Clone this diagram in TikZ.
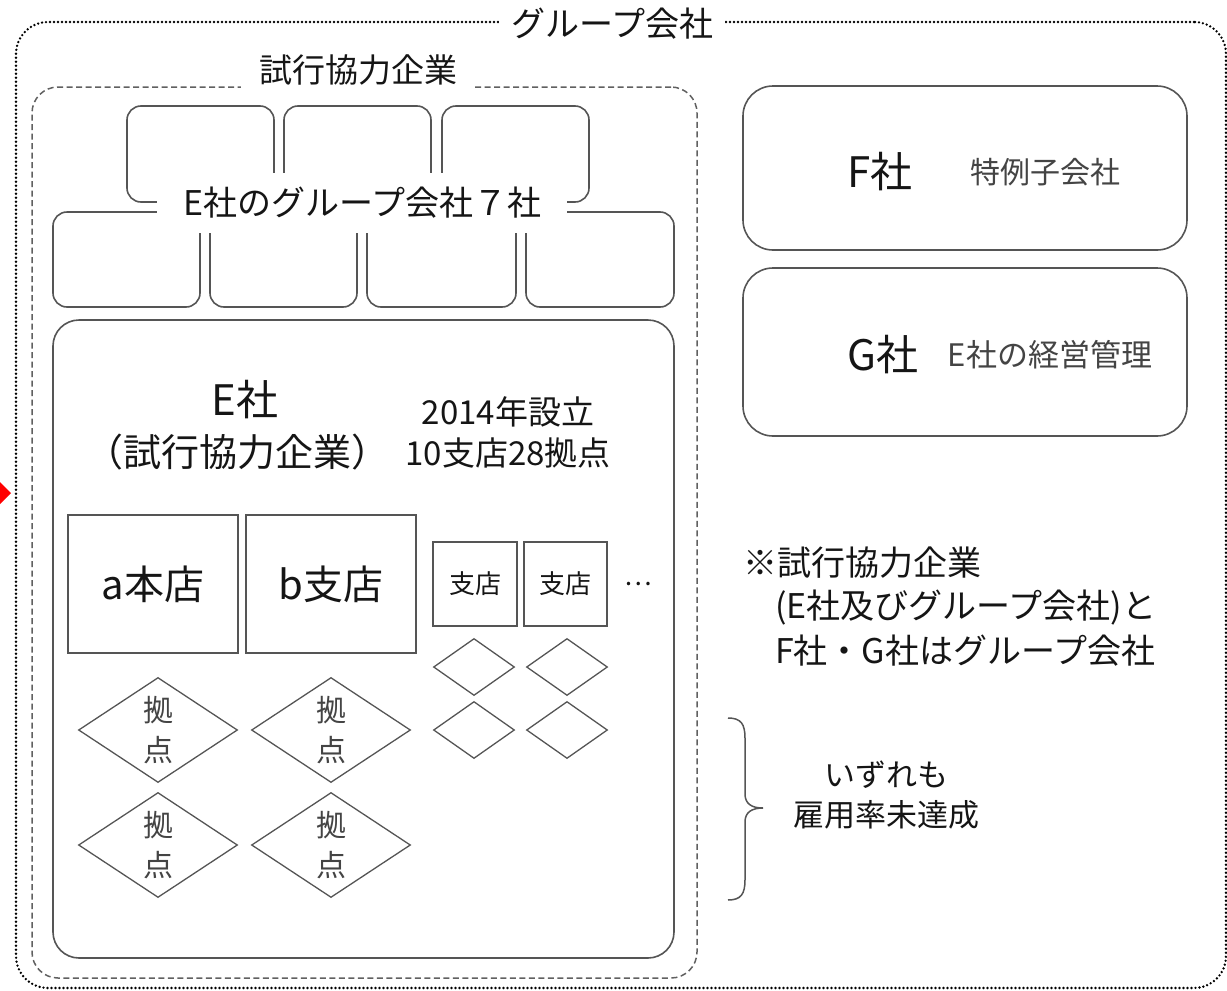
\documentclass[tikz,border=0pt]{standalone}
\usepackage{fontspec}
\setmainfont{Noto Sans CJK JP}
\usetikzlibrary{shapes.geometric}
\definecolor{ln}{HTML}{555555}
\definecolor{dl}{HTML}{606060}
\definecolor{tx}{HTML}{151515}
\definecolor{tg}{HTML}{444444}
\newcommand{\jfs}[1]{\fontsize{#1}{#1}\selectfont}
\begin{document}
\begin{tikzpicture}[x=1pt,y=-1pt,
  box/.style={draw=ln, line width=1.6pt, rounded corners=#1, inner sep=0pt},
  sqbox/.style={draw=ln, line width=1.6pt, inner sep=0pt},
  dia/.style={draw=ln, line width=1.3pt, diamond, inner sep=0pt},
  lbl/.style={text=tx, inner sep=0pt, font=\jfs{#1}},
  lblg/.style={text=tg, inner sep=0pt, font=\jfs{#1}}]
\useasboundingbox (0,0) rectangle (1227,991);
% red mark at left edge
\fill[red] (0,482) -- (11,493) -- (0,504) -- cycle;
% outer group box
\node[draw=black, line width=2.6pt, line cap=round, dash pattern=on 0pt off 4pt,
      rounded corners=32pt, minimum width=1210pt, minimum height=966pt] (group) at (621,505) {};
\node[lbl=34, fill=white, inner xsep=12pt, inner ysep=4pt] (grouptitle) at (612,24) {グループ会社};
% trial companies box
\node[draw=dl, line width=1.5pt, dash pattern=on 6pt off 3.5pt,
      rounded corners=26pt, minimum width=665pt, minimum height=891pt] (trial) at (364.5,532.5) {};
\node[lbl=33, fill=white, inner xsep=18pt, minimum height=40pt] (trialtitle) at (358,70) {試行協力企業};
% seven group companies of E
\node[box=14pt, minimum width=147pt, minimum height=96pt] (g1) at (200.5,154) {};
\node[box=14pt, minimum width=147pt, minimum height=96pt] (g2) at (357.5,154) {};
\node[box=14pt, minimum width=147pt, minimum height=96pt] (g3) at (515.5,154) {};
\node[box=14pt, minimum width=147pt, minimum height=95pt] (g4) at (126.5,259.5) {};
\node[box=14pt, minimum width=147pt, minimum height=95pt] (g5) at (283.5,259.5) {};
\node[box=14pt, minimum width=149pt, minimum height=95pt] (g6) at (441.5,259.5) {};
\node[box=14pt, minimum width=148pt, minimum height=95pt] (g7) at (600,259.5) {};
\node[lbl=34, fill=white, minimum width=410pt, minimum height=60pt] (g7label) at (362,203) {E社のグループ会社７社};
% E company
\node[box=26pt, minimum width=621pt, minimum height=638pt] (ebox) at (363.5,639) {};
\node[lbl=42] (ename) at (245,400) {E社};
\node[lbl=38] (etrial) at (237,452) {（試行協力企業）};
\node[lbl=33] (efound) at (508,412) {2014年設立};
\node[lbl=33] (ecount) at (508,453) {10支店28拠点};
% head office and branches
\node[sqbox, minimum width=170pt, minimum height=138pt, lbl=40] (aho) at (153,584) {a本店};
\node[sqbox, minimum width=170pt, minimum height=138pt, lbl=40] (bbr) at (331,584) {b支店};
\node[sqbox, minimum width=84pt, minimum height=84pt, lbl=26] (br1) at (475,584) {支店};
\node[sqbox, minimum width=83pt, minimum height=84pt, lbl=26] (br2) at (565.5,584) {支店};
\node[lbl=26] (dots) at (638,584) {…};
% base diamonds (large)
\node[dia, minimum width=159pt, minimum height=105pt] (d1) at (158,730) {};
\node[dia, minimum width=159pt, minimum height=105pt] (d2) at (331,730) {};
\node[dia, minimum width=159pt, minimum height=105pt] (d3) at (158,845) {};
\node[dia, minimum width=159pt, minimum height=105pt] (d4) at (331,845) {};
\foreach \n in {d1,d2,d3,d4}{
  \node[lblg=30, align=center, font=\fontsize{30}{40}\selectfont] (\n t) at (\n) {拠\\点};
}
% small diamonds
\node[dia, minimum width=81pt, minimum height=57pt] (s1) at (474,667) {};
\node[dia, minimum width=81pt, minimum height=57pt] (s2) at (567,667) {};
\node[dia, minimum width=81pt, minimum height=57pt] (s3) at (474,730) {};
\node[dia, minimum width=81pt, minimum height=57pt] (s4) at (567,730) {};
% F and G companies
\node[box=30pt, minimum width=444pt, minimum height=164pt] (fbox) at (965,168) {};
\node[lbl=42] (fname) at (880,172) {F社};
\node[lblg=30] (fdesc) at (1045,172) {特例子会社};
\node[box=30pt, minimum width=444pt, minimum height=168pt] (gbox) at (965,352) {};
\node[lbl=42] (gname) at (883,355) {G社};
\node[lblg=31] (gdesc) at (1050,355) {E社の経営管理};
% note
\node[lbl=34, anchor=west] (note1) at (743,563) {※試行協力企業};
\node[lbl=34, anchor=west] (note2) at (775,608) {(E社及びグループ会社)と};
\node[lbl=34, anchor=west] (note3) at (775,651) {F社・G社はグループ会社};
% brace
\coordinate (bt) at (728,718);
\coordinate (bb) at (728,900);
\coordinate (btip) at (763,808);
\draw[ln, line width=1.5pt] (bt) .. controls (741,718) and (745,724) .. (745,738)
   -- (745,794) .. controls (745,804) and (752,808) .. (btip)
   .. controls (752,808) and (745,812) .. (745,822)
   -- (745,880) .. controls (745,894) and (741,900) .. (bb);
\node[lbl=31] (unmet1) at (886,775) {いずれも};
\node[lbl=31] (unmet2) at (886,815) {雇用率未達成};
\end{tikzpicture}
\end{document}
